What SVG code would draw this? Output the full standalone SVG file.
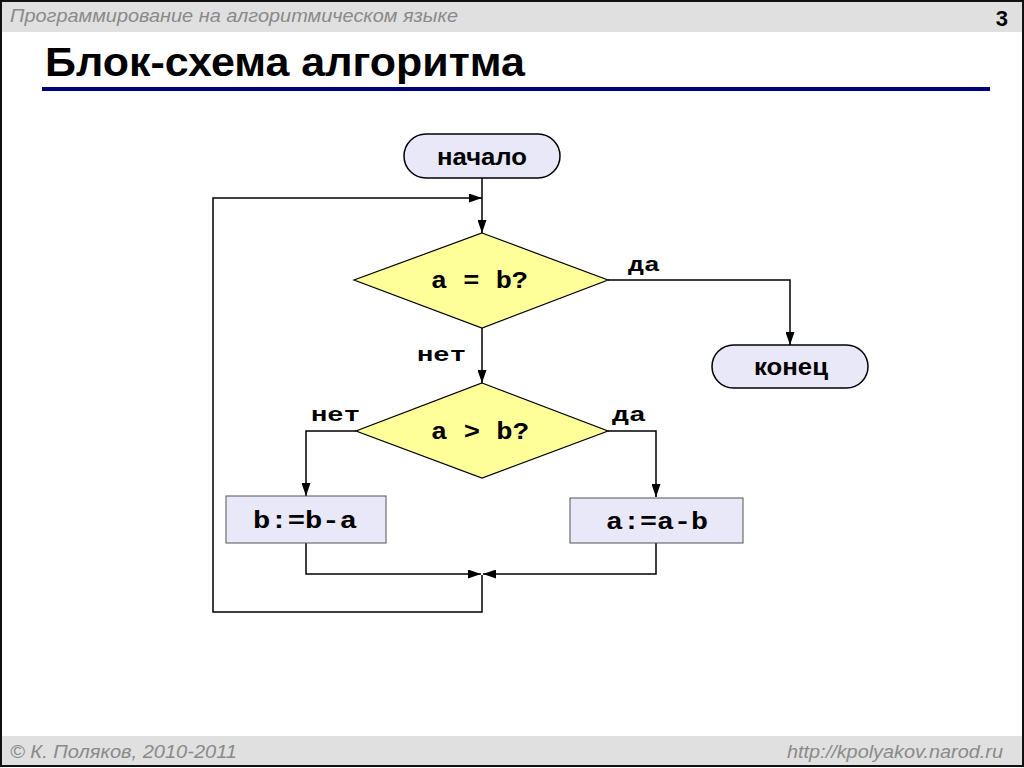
<svg xmlns="http://www.w3.org/2000/svg" width="1024" height="768" viewBox="0 0 1024 768">
<style>
.band{fill:#e0e0e0}
.hdr{font-family:"Liberation Sans",Arial,sans-serif;font-style:italic;font-size:19px;fill:#8a8a8a}
.term{fill:#e8e8f8;stroke:#000;stroke-width:1.5}
.dec{fill:#ffff99;stroke:#000;stroke-width:1.2}
.proc{fill:#e8e8f8;stroke:#555;stroke-width:1}
.sans{font-family:"Liberation Sans",Arial,sans-serif;font-weight:bold;font-size:24px;fill:#000;text-anchor:middle}
.mono{font-family:"Liberation Mono","Courier New",monospace;font-weight:bold;font-size:24px;fill:#000;text-anchor:middle}
.lbl{font-family:"Liberation Mono","Courier New",monospace;font-weight:bold;font-size:21px;fill:#000;text-anchor:middle}
.wire{fill:none;stroke:#000;stroke-width:1.5}
</style>
<defs>
<marker id="arr" viewBox="0 0 13 9" refX="13" refY="4.5" markerWidth="13" markerHeight="9" markerUnits="userSpaceOnUse" orient="auto">
<path d="M0,0 L13,4.5 L0,9 Z" fill="#000"/>
</marker>
</defs>
<rect x="0" y="0" width="1024" height="768" fill="#fff"/>
<rect class="band" x="0" y="0" width="1024" height="32"/>
<rect class="band" x="0" y="736" width="1024" height="30"/>
<text class="hdr" x="10" y="22" textLength="448" lengthAdjust="spacingAndGlyphs">Программирование на алгоритмическом языке</text>
<text x="1008" y="26" font-family="Liberation Sans,Arial,sans-serif" font-weight="bold" font-size="22" text-anchor="end" fill="#000">3</text>
<text x="45" y="76" font-family="Liberation Sans,Arial,sans-serif" font-weight="bold" font-size="40" fill="#000" textLength="480" lengthAdjust="spacingAndGlyphs">Блок-схема алгоритма</text>
<rect x="42" y="87" width="948" height="4" fill="#000080"/>
<text class="hdr" x="10" y="758" textLength="227" lengthAdjust="spacingAndGlyphs">© К. Поляков, 2010-2011</text>
<text class="hdr" x="1003" y="758" text-anchor="end" textLength="216" lengthAdjust="spacingAndGlyphs">http://kpolyakov.narod.ru</text>
<rect x="1" y="1" width="1022" height="765" fill="none" stroke="#111" stroke-width="2"/>

<g id="connectors">
<path class="wire" d="M482,178 V233" marker-end="url(#arr)"/>
<path class="wire" d="M482,575 V612 H213 V198 H482" marker-end="url(#arr)"/>
<path class="wire" d="M608,280 H790 V345" marker-end="url(#arr)"/>
<path class="wire" d="M482,328 V383" marker-end="url(#arr)"/>
<path class="wire" d="M356,431 H306 V496" marker-end="url(#arr)"/>
<path class="wire" d="M608,431 H656 V497" marker-end="url(#arr)"/>
<path class="wire" d="M306,543 V574 H481" marker-end="url(#arr)"/>
<path class="wire" d="M656,543 V574 H483" marker-end="url(#arr)"/>
<text class="lbl" x="644" y="271" textLength="32" lengthAdjust="spacingAndGlyphs">да</text>
<text class="lbl" x="441.5" y="361" textLength="49" lengthAdjust="spacingAndGlyphs">нет</text>
<text class="lbl" x="335.5" y="421" textLength="49" lengthAdjust="spacingAndGlyphs">нет</text>
<text class="lbl" x="629" y="421" textLength="34" lengthAdjust="spacingAndGlyphs">да</text>
</g>

<g id="start">
<rect class="term" x="404" y="134" width="156" height="44" rx="22"/>
<text class="sans" x="482" y="165" textLength="90" lengthAdjust="spacingAndGlyphs">начало</text>
</g>
<g id="cond1">
<polygon class="dec" points="482,233 608,280 482,328 354,280"/>
<text class="mono" x="479.5" y="288" textLength="97" lengthAdjust="spacingAndGlyphs">a = b?</text>
</g>
<g id="end">
<rect class="term" x="712" y="345" width="156" height="43" rx="21.5"/>
<text class="sans" x="791" y="375" textLength="74" lengthAdjust="spacingAndGlyphs">конец</text>
</g>
<g id="cond2">
<polygon class="dec" points="482,383 608,431 482,478 356,431"/>
<text class="mono" x="480" y="439" textLength="98" lengthAdjust="spacingAndGlyphs">a &gt; b?</text>
</g>
<g id="procB">
<rect class="proc" x="226" y="496" width="160" height="47"/>
<text class="mono" x="305" y="528" textLength="104" lengthAdjust="spacingAndGlyphs">b:=b-a</text>
</g>
<g id="procA">
<rect class="proc" x="570" y="498" width="173" height="45"/>
<text class="mono" x="657" y="529" textLength="102" lengthAdjust="spacingAndGlyphs">a:=a-b</text>
</g>
</svg>
